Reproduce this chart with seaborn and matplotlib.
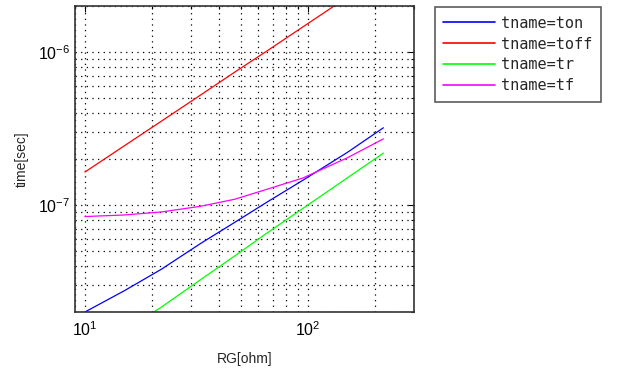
import numpy as np
import pandas as pd
import matplotlib
matplotlib.use("Agg")
import matplotlib.pyplot as plt
import matplotlib.ticker as mticker
import seaborn as sns

# ---- data ----
rg = [10, 15, 22, 33, 47, 66, 95, 150, 218]
t_on = [2.0e-8, 2.75e-8, 3.8e-8, 5.6e-8, 7.7e-8, 1.05e-7, 1.45e-7, 2.2e-7, 3.19e-7]
t_off = [1.64e-7, 2.43e-7, 3.52e-7, 5.22e-7, 7.37e-7, 1.02e-6, 1.455e-6, 2.27e-6, 3.27e-6]
t_r = [1.0e-8, 1.5e-8, 2.15e-8, 3.25e-8, 4.65e-8, 6.6e-8, 9.5e-8, 1.5e-7, 2.18e-7]
t_f = [8.4e-8, 8.6e-8, 9.0e-8, 9.8e-8, 1.09e-7, 1.27e-7, 1.50e-7, 2.03e-7, 2.70e-7]
series_names = ["tname=ton", "tname=toff", "tname=tr", "tname=tf"]
series_colors = ["#0000ff", "#ff0000", "#00ff00", "#ff00ff"]
x_ticks = [10, 100]
x_ticklabels = [r"$\mathregular{10^{1}}$", r"$\mathregular{10^{2}}$"]
y_ticks = [1e-7, 1e-6]
y_ticklabels = [r"$\mathregular{10^{-7}}$", r"$\mathregular{10^{-6}}$"]

frames = []
for name, vals in zip(series_names, [t_on, t_off, t_r, t_f]):
    frames.append(pd.DataFrame({"RG": rg, "time": vals, "tname": name}))
df = pd.concat(frames, ignore_index=True)

sns.set_style("white")
plt.rcParams["font.family"] = ["Liberation Sans", "DejaVu Sans"]

fig = plt.figure(figsize=(6.17, 3.71), dpi=100)
ax = fig.add_axes([74.7 / 617, 1 - 312 / 371, (414.3 - 74.7) / 617, (312 - 5.7) / 371])

sns.lineplot(data=df, x="RG", y="time", hue="tname", hue_order=series_names,
             palette=dict(zip(series_names, series_colors)), linewidth=0.9,
             ax=ax, legend=True, sort=False)

ax.set_xscale("log")
ax.set_yscale("log")
ax.set_xlim(9, 300)
ax.set_ylim(2e-8, 2e-6)

ax.xaxis.set_major_locator(mticker.FixedLocator(x_ticks))
ax.set_xticklabels(x_ticklabels)
ax.yaxis.set_major_locator(mticker.FixedLocator(y_ticks))
ax.set_yticklabels(y_ticklabels)
ax.xaxis.set_minor_locator(mticker.LogLocator(base=10, subs=np.arange(2, 10)))
ax.yaxis.set_minor_locator(mticker.LogLocator(base=10, subs=np.arange(2, 10)))
ax.xaxis.set_minor_formatter(mticker.NullFormatter())
ax.yaxis.set_minor_formatter(mticker.NullFormatter())

ax.grid(True, which="both", color="black", linestyle=(0, (1, 3.5)), linewidth=0.9)
ax.tick_params(which="both", direction="in", top=True, right=True, colors="black",
               labelsize=11.5)
ax.tick_params(which="major", length=4, width=0.8)
ax.tick_params(which="minor", length=2.5, width=0.8)
ax.tick_params(axis="x", pad=6)
for s in ax.spines.values():
    s.set_color("#333333")
    s.set_linewidth(1.2)
    s.set_visible(True)

ax.set_xlabel("RG[ohm]", fontsize=10, labelpad=9)
ax.set_ylabel("time[sec]", fontsize=10, labelpad=6)

handles, labels = ax.get_legend_handles_labels()
ax.get_legend().remove()
leg = fig.legend(handles, labels, loc="upper left",
                 bbox_to_anchor=(434.7 / 617, 1 - 7.3 / 371), borderaxespad=0,
                 prop={"family": "DejaVu Sans Mono", "size": 11},
                 handlelength=3.4, handletextpad=0.4, labelspacing=0.38,
                 borderpad=0.55, fancybox=False, frameon=True)
leg.get_frame().set_edgecolor("#333333")
leg.get_frame().set_linewidth(1.2)
for line in leg.get_lines():
    line.set_linewidth(1.2)

fig.savefig("out.png", dpi=100, facecolor="white")
